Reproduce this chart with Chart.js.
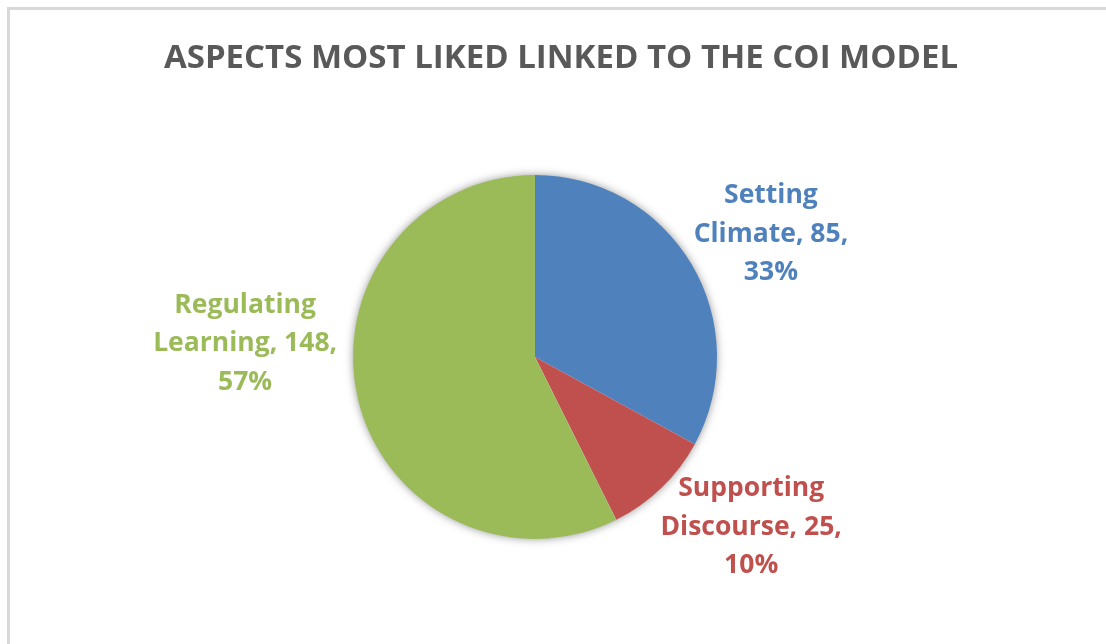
<!DOCTYPE html>
<html>
<head>
<meta charset="utf-8">
<script src="https://cdn.jsdelivr.net/npm/chart.js@4"></script>
<style>
  html, body { margin: 0; padding: 0; background: #ffffff; width: 1106px; height: 644px; overflow: hidden; }
  #frame { position: absolute; left: 7px; top: 7px; width: 1200px; height: 700px; border-left: 3px solid #d9d9d9; border-top: 3px solid #d9d9d9; box-sizing: border-box; }
  #wrap { position: absolute; left: 0; top: 0; width: 1106px; height: 644px; }
</style>
</head>
<body>
<div id="frame"></div>
<div id="wrap"><canvas id="c" width="1106" height="644"></canvas></div>
<script>
const chartTitle = "ASPECTS MOST LIKED LINKED TO THE COI MODEL";
const categories = [["Setting", "Climate"], ["Supporting", "Discourse"], ["Regulating", "Learning"]];
const values = [85, 25, 148];
const sliceColors = ["#4f81bd", "#c0504d", "#9bbb59"];

const total = values.reduce((a, b) => a + b, 0);

function labelLines(i) {
  const pct = Math.round(values[i] / total * 100) + "%";
  const name = categories[i];
  return [name[0], name[1] + ", " + values[i] + ",", pct];
}

const labelPlugin = {
  id: 'excelLabels',
  beforeDatasetsDraw(chart, args, opts) {
    const meta = chart.getDatasetMeta(0);
    const a = meta.data[0];
    if (!a) return;
    const ctx = chart.ctx;
    ctx.save();
    ctx.shadowColor = 'rgba(0,0,0,0.5)';
    ctx.shadowBlur = 10;
    ctx.fillStyle = '#ffffff';
    ctx.beginPath();
    ctx.arc(a.x, a.y, a.outerRadius - 1, 0, Math.PI * 2);
    ctx.fill();
    ctx.restore();
  },
  afterDatasetsDraw(chart, args, opts) {
    const ctx = chart.ctx;
    const meta = chart.getDatasetMeta(0);
    ctx.save();
    ctx.fillStyle = opts.titleColor;
    ctx.textAlign = 'center';
    ctx.textBaseline = 'alphabetic';
    ctx.font = opts.titleFont;
    ctx.fillText(chartTitle, opts.titleX, opts.titleY);
    ctx.restore();

    meta.data.forEach((arc, i) => {
      const mid = (arc.startAngle + arc.endAngle) / 2;
      const d = arc.outerRadius * opts.distFactor;
      const off = opts.offsets[i];
      const cx = arc.x + Math.cos(mid) * d + off[0];
      const cy = arc.y + Math.sin(mid) * d + off[1];
      const lines = labelLines(i);
      ctx.save();
      ctx.fillStyle = sliceColors[i];
      ctx.font = opts.labelFont;
      ctx.textAlign = 'center';
      ctx.textBaseline = 'middle';
      const lh = opts.lineHeight;
      lines.forEach((t, k) => {
        ctx.fillText(t, cx, cy + (k - 1) * lh);
      });
      ctx.restore();
    });
  }
};

new Chart(document.getElementById('c'), {
  type: 'pie',
  data: {
    labels: categories.map(c => c.join(' ')),
    datasets: [{
      data: values,
      backgroundColor: sliceColors,
      borderWidth: 0,
      hoverOffset: 0
    }]
  },
  options: {
    responsive: false,
    animation: false,
    rotation: 0,
    layout: { padding: { top: 175, bottom: 105, left: 335, right: 371 } },
    plugins: {
      legend: { display: false },
      title: { display: false },
      tooltip: { enabled: false },
      excelLabels: {
        titleFont: "bold 33px 'Open Sans'",
        titleColor: '#595959',
        titleX: 561,
        titleY: 68,
        labelFont: "bold 26.5px 'Open Sans'",
        lineHeight: 38.5,
        distFactor: 1.45,
        offsets: [[9, 12], [33, -20], [-33, -74]]
      }
    }
  },
  plugins: [labelPlugin]
});
</script>
</body>
</html>
